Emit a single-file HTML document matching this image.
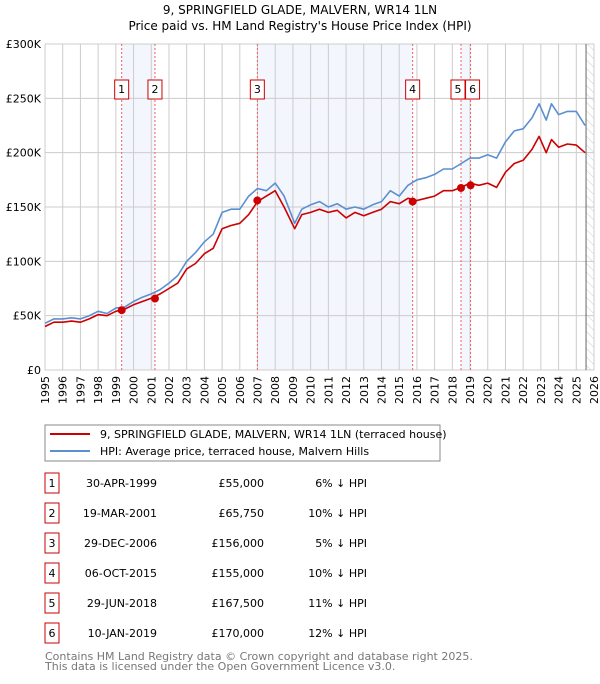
<!DOCTYPE html>
<html><head><meta charset="utf-8"><style>
body{margin:0;background:#fff;font-family:"DejaVu Sans","Liberation Sans",sans-serif;}
svg text{font-family:"DejaVu Sans","Liberation Sans",sans-serif;}
</style></head><body>
<svg width="600" height="680" xmlns="http://www.w3.org/2000/svg">
<defs><pattern id="hatch" width="6" height="6" patternUnits="userSpaceOnUse" patternTransform="rotate(-45)"><line x1="0" y1="0" x2="0" y2="6" stroke="#ccc" stroke-width="1"/></pattern></defs>
<text x="300" y="14" text-anchor="middle" font-size="12">9, SPRINGFIELD GLADE, MALVERN, WR14 1LN</text>
<text x="300" y="30" text-anchor="middle" font-size="12">Price paid vs. HM Land Registry's House Price Index (HPI)</text>
<g id="plot"></g>
<rect x="45" y="425" width="395" height="36" fill="#fff" stroke="#888"/>
<line x1="50" y1="434" x2="90" y2="434" stroke="#cc0000" stroke-width="2"/>
<text x="100" y="438" font-size="11">9, SPRINGFIELD GLADE, MALVERN, WR14 1LN (terraced house)</text>
<line x1="50" y1="451" x2="90" y2="451" stroke="#5b8fd0" stroke-width="2"/>
<text x="100" y="455" font-size="11">HPI: Average price, terraced house, Malvern Hills</text>
<g id="table"></g>
<text x="45" y="660" font-size="11" fill="#777">Contains HM Land Registry data © Crown copyright and database right 2025.</text>
<text x="45" y="670" font-size="11" fill="#777">This data is licensed under the Open Government Licence v3.0.</text>
</svg>
<script>
const hpiYears=[1995,1995.5,1996,1996.5,1997,1997.5,1998,1998.5,1999,1999.5,2000,2000.5,2001,2001.5,2002,2002.5,2003,2003.5,2004,2004.5,2005,2005.5,2006,2006.5,2007,2007.5,2008,2008.5,2009.1,2009.5,2010,2010.5,2011,2011.5,2012,2012.5,2013,2013.5,2014,2014.5,2015,2015.5,2016,2016.5,2017,2017.5,2018,2018.5,2019,2019.5,2020,2020.5,2021,2021.5,2022,2022.5,2022.9,2023.3,2023.6,2024,2024.5,2025,2025.5];
const hpiValues=[43,47,47,48,47,50,54,52,57,58,63,67,70,74,80,87,100,108,118,125,145,148,148,160,167,165,172,160,135,148,152,155,150,153,148,150,148,152,155,165,160,170,175,177,180,185,185,190,195,195,198,195,210,220,222,232,245,230,245,235,238,238,225];
const priceValues=[40,44,44,45,44,47,51,50,54,56,60,63,66,70,75,80,93,98,107,112,130,133,135,143,155,160,165,150,130,143,145,148,145,147,140,145,142,145,148,155,153,158,156,158,160,165,165,168,172,170,172,168,182,190,193,203,215,200,212,205,208,207,200];
const saleYears=[1999.33,2001.21,2006.99,2015.76,2018.49,2019.03];
const salePrices=[55,65.75,156,155,167.5,170];
const saleDates=["30-APR-1999","19-MAR-2001","29-DEC-2006","06-OCT-2015","29-JUN-2018","10-JAN-2019"];
const saleLabels=["£55,000","£65,750","£156,000","£155,000","£167,500","£170,000"];
const saleHpi=["6% ↓ HPI","10% ↓ HPI","5% ↓ HPI","10% ↓ HPI","11% ↓ HPI","12% ↓ HPI"];
const yTicks=[0,50,100,150,200,250,300];
const yTickLabels=["£0","£50K","£100K","£150K","£200K","£250K","£300K"];
const xTicks=[1995,1996,1997,1998,1999,2000,2001,2002,2003,2004,2005,2006,2007,2008,2009,2010,2011,2012,2013,2014,2015,2016,2017,2018,2019,2020,2021,2022,2023,2024,2025,2026];

const X0=45,X1=594,Y0=370,Y1=44;
const xs=y=>X0+(y-1995)/(2026-1995)*(X1-X0);
const ys=v=>Y0-v/300*(Y0-Y1);
const NS="http://www.w3.org/2000/svg";
function mk(p,tag,attrs){const e=document.createElementNS(NS,tag);for(const k in attrs)e.setAttribute(k,attrs[k]);p.appendChild(e);return e;}
const plot=document.getElementById('plot');
// shading
const shadePairs=[[0,1],[2,3],[4,5]];
shadePairs.forEach((p,i)=>{const r=mk(plot,'rect',{x:xs(saleYears[p[0]]),y:Y1,width:xs(saleYears[p[1]])-xs(saleYears[p[0]]),height:Y0-Y1,fill:'#eef2fc',opacity:0.7});

});
const hz=mk(plot,'rect',{x:xs(2025.55),y:Y1,width:X1-xs(2025.55),height:Y0-Y1,fill:'url(#hatch)'});


// grid
xTicks.forEach(t=>{const l=mk(plot,'line',{x1:xs(t),x2:xs(t),y1:Y1,y2:Y0,stroke:'#ccc'});


const tx=mk(plot,'text',{x:0,y:0,'font-size':11,'text-anchor':'end',transform:`translate(${xs(t)+4},${Y0+6}) rotate(-90)`});tx.textContent=t;

});
yTicks.forEach((t,i)=>{const l=mk(plot,'line',{x1:X0,x2:X1,y1:ys(t),y2:ys(t),stroke:'#ccc'});


const tx=mk(plot,'text',{x:X0-4,y:ys(t)+4,'font-size':11,'text-anchor':'end'});tx.textContent=yTickLabels[i];

});
const vl=mk(plot,'line',{x1:xs(2025.55),x2:xs(2025.55),y1:Y1,y2:Y0,stroke:'#666'});


// sale lines + labels
saleYears.forEach((s,i)=>{const l=mk(plot,'line',{x1:xs(s),x2:xs(s),y1:Y1,y2:Y0,stroke:'#f06060','stroke-dasharray':'2,2'});


let cx=xs(s); if(i==4)cx-=5; if(i==5)cx-=0;
const g=mk(plot,'g',{});


const bx=i==5?xs(s)-5:(i==4?xs(s)-10:cx-7);
mk(g,'rect',{x:bx,y:80,width:14,height:19,fill:'#fff',stroke:'#cc0000'});
const t=mk(g,'text',{x:bx+7,y:93,'font-size':11,'text-anchor':'middle'});t.textContent=i+1;});
function path(vals,color,name){let d='';hpiYears.forEach((y,i)=>{d+=(i?'L':'M')+xs(y).toFixed(1)+','+ys(vals[i]).toFixed(1);});
const p=mk(plot,'path',{d:d,fill:'none',stroke:color,'stroke-width':1.6,'stroke-linejoin':'round'});

}
path(hpiValues,'#5b8fd0','hpi-line');
path(priceValues,'#cc0000','price-line');
saleYears.forEach((s,i)=>{const c=mk(plot,'circle',{cx:xs(s),cy:ys(salePrices[i]),r:4,fill:'#cc0000'});

});
// table
const tb=document.getElementById('table');
saleDates.forEach((d,i)=>{const cy=483+i*30;
const g=mk(tb,'g',{});


mk(g,'rect',{x:45,y:cy-10,width:14,height:20,fill:'#fff',stroke:'#cc0000'});
let t=mk(g,'text',{x:52,y:cy+4,'font-size':11,'text-anchor':'middle'});t.textContent=i+1;
t=mk(g,'text',{x:157,y:cy+4,'font-size':11,'text-anchor':'end'});t.textContent=d;
t=mk(g,'text',{x:264,y:cy+4,'font-size':11,'text-anchor':'end'});t.textContent=saleLabels[i];
t=mk(g,'text',{x:367,y:cy+4,'font-size':11,'text-anchor':'end'});t.textContent=saleHpi[i];});
</script>
</body></html>
